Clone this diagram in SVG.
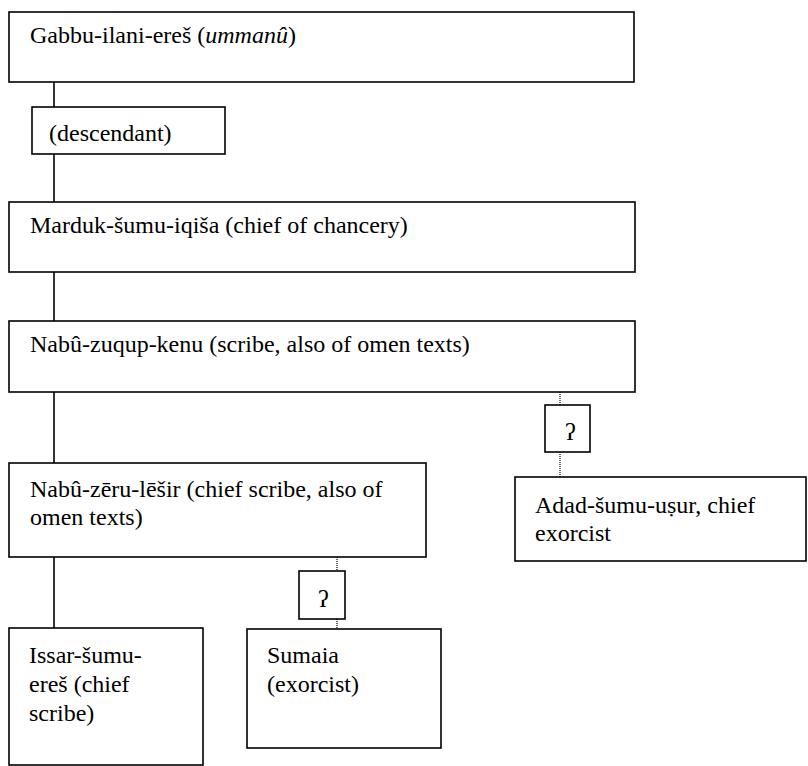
<svg xmlns="http://www.w3.org/2000/svg" width="808" height="766" viewBox="0 0 808 766">
<style>
  .box { fill: #ffffff; stroke: #000000; stroke-width: 1.6; }
  .t { font-size: 24px; fill: #000000; }
  .solid { stroke: #000000; stroke-width: 1.6; fill: none; }
  .dot { stroke: #000000; stroke-width: 1.2; stroke-dasharray: 1 1; fill: none; }
</style>
<rect width="808" height="766" fill="#ffffff"/>
<g id="connectors">
  <line class="solid" x1="54" y1="82" x2="54" y2="107"/>
  <line class="solid" x1="54" y1="154" x2="54" y2="202"/>
  <line class="solid" x1="54" y1="272" x2="54" y2="321"/>
  <line class="solid" x1="54" y1="392" x2="54" y2="463"/>
  <line class="solid" x1="54" y1="557" x2="54" y2="628"/>
  <line class="dot" x1="560" y1="392" x2="560" y2="405"/>
  <line class="dot" x1="560" y1="452" x2="560" y2="487"/>
  <line class="dot" x1="337" y1="557" x2="337" y2="571"/>
  <line class="dot" x1="337" y1="619" x2="337" y2="629"/>
</g>
<g font-family="'Liberation Serif', 'DejaVu Serif', serif">
<g id="gabbu">
  <rect class="box" x="9" y="12" width="625" height="70"/>
  <text class="t" x="30" y="43">Gabbu-ilani-ereš (<tspan font-style="italic">ummanû</tspan>)</text>
</g>
<g id="descendant">
  <rect class="box" x="32" y="107" width="193" height="47"/>
  <text class="t" x="49" y="141">(descendant)</text>
</g>
<g id="marduk">
  <rect class="box" x="9" y="202" width="626" height="70"/>
  <text class="t" x="30" y="233">Marduk-šumu-iqiša (chief of chancery)</text>
</g>
<g id="nabu-zuqup">
  <rect class="box" x="9" y="321" width="626" height="71"/>
  <text class="t" x="30" y="352">Nabû-zuqup-kenu (scribe, also of omen texts)</text>
</g>
<g id="q1">
  <rect class="box" x="545" y="405" width="45" height="47"/>
  <text class="t" x="565" y="440">ʔ</text>
</g>
<g id="adad">
  <rect class="box" x="515" y="477" width="291" height="84"/>
  <text class="t" x="535" y="513">Adad-šumu-uṣur, chief</text>
  <text class="t" x="535" y="541">exorcist</text>
</g>
<g id="nabu-zeru">
  <rect class="box" x="9" y="463" width="417" height="94"/>
  <text class="t" x="30" y="497">Nabû-zēru-lēšir (chief scribe, also of</text>
  <text class="t" x="30" y="525">omen texts)</text>
</g>
<g id="q2">
  <rect class="box" x="299" y="571" width="46" height="48"/>
  <text class="t" x="318" y="607">ʔ</text>
</g>
<g id="issar">
  <rect class="box" x="9" y="628" width="194" height="137"/>
  <text class="t" x="29" y="663">Issar-šumu-</text>
  <text class="t" x="29" y="692">ereš (chief</text>
  <text class="t" x="29" y="721">scribe)</text>
</g>
<g id="sumaia">
  <rect class="box" x="247" y="629" width="194" height="119"/>
  <text class="t" x="267" y="663">Sumaia</text>
  <text class="t" x="267" y="692">(exorcist)</text>
</g>
</g>
</svg>
